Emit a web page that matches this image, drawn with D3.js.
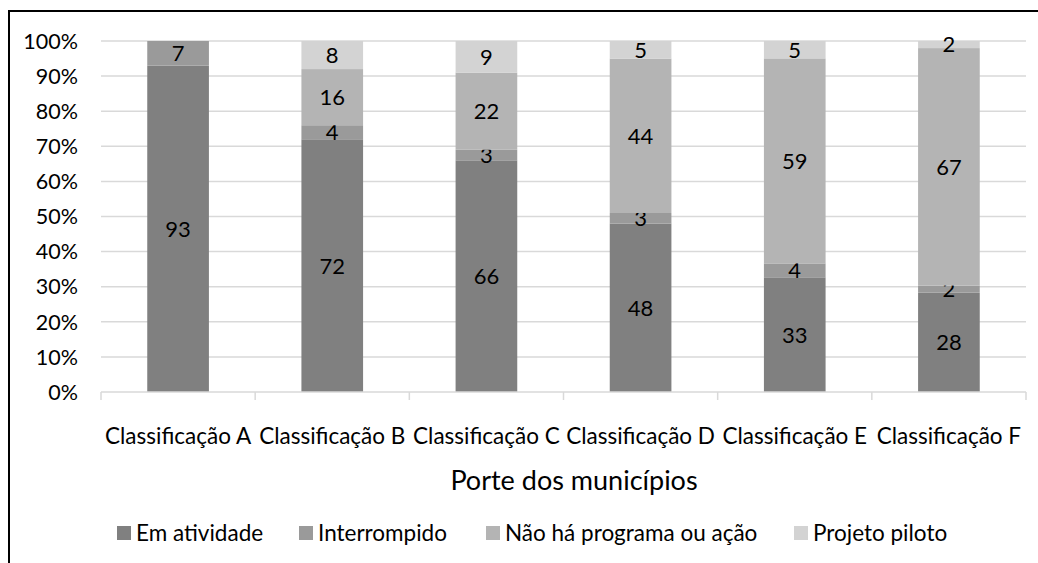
<!DOCTYPE html>
<html><head><meta charset="utf-8">
<script src="https://cdn.jsdelivr.net/npm/d3@7"></script>
<style>
html,body{margin:0;padding:0;background:#fff;}
svg text{font-family:Lato,"Open Sans",sans-serif;fill:#000;}
</style></head>
<body><svg id="c" width="1038" height="563"></svg>
<script>
const categories = ["Classificação A","Classificação B","Classificação C","Classificação D","Classificação E","Classificação F"];
const seriesNames = ["Em atividade","Interrompido","Não há programa ou ação","Projeto piloto"];
const emAtividade = [93,72,66,48,33,28];
const interrompido = [7,4,3,3,4,2];
const naoHa = [0,16,22,44,59,67];
const projetoPiloto = [0,8,9,5,5,2];
const yTicks = [0,0.1,0.2,0.3,0.4,0.5,0.6,0.7,0.8,0.9,1];
const colors = ["#808080","#9a9a9a","#b4b4b4","#d3d3d3"];

const svg = d3.select("#c");
svg.append("rect").attr("x",9).attr("y",11).attr("width",1200).attr("height",800)
  .attr("fill","none").attr("stroke","#000").attr("stroke-width",2);

const m = {l:101, r:1026, t:41, b:392};
const x = d3.scaleBand().domain(categories).range([m.l,m.r]).paddingInner(0.6).paddingOuter(0.3);
const y = d3.scaleLinear().domain([0,1]).range([m.b,m.t]);

const rows = categories.map((c,i)=>{
  const vals=[emAtividade[i],interrompido[i],naoHa[i],projetoPiloto[i]];
  const tot=d3.sum(vals);
  const o={cat:c,tot};
  seriesNames.forEach((s,j)=>o[s]=vals[j]/tot);
  o.raw=vals;
  return o;
});
const stack = d3.stack().keys(seriesNames)(rows);

// gridlines
svg.append("g").selectAll("line").data(yTicks.filter(t=>t>0)).join("line")
  .attr("x1",m.l).attr("x2",m.r).attr("y1",d=>y(d)).attr("y2",d=>y(d))
  .attr("stroke","#d9d9d9").attr("stroke-width",1.5);

// y labels
svg.append("g").selectAll("text").data(yTicks).join("text")
  .attr("x",78).attr("y",d=>y(d)).attr("dy","0.36em").attr("text-anchor","end")
  .attr("font-size",21.5).text(d=>d3.format(".0%")(d));

// bars
stack.forEach((layer,j)=>{
  svg.append("g").attr("fill",colors[j]).selectAll("rect").data(layer).join("rect")
    .attr("x",d=>x(d.data.cat)).attr("width",x.bandwidth())
    .attr("y",d=>y(d[1])).attr("height",d=>y(d[0])-y(d[1]));
  svg.append("g").selectAll("text").data(layer.filter(d=>d.data.raw[j]>0)).join("text")
    .attr("x",d=>x(d.data.cat)+x.bandwidth()/2).attr("y",d=>(y(d[0])+y(d[1]))/2)
    .attr("dy","0.36em").attr("text-anchor","middle").attr("font-size",22)
    .text(d=>d.data.raw[j]);
});

// x axis line and ticks
const ax = svg.append("g");
ax.append("line").attr("x1",m.l).attr("x2",m.r).attr("y1",m.b).attr("y2",m.b).attr("stroke","#d9d9d9").attr("stroke-width",1.5);
const tickX = d3.range(categories.length+1).map(i=> m.l + i*(m.r-m.l)/categories.length);
ax.selectAll("line.t").data(tickX).join("line").attr("class","t")
  .attr("x1",d=>d).attr("x2",d=>d).attr("y1",m.b).attr("y2",m.b+8).attr("stroke","#d9d9d9").attr("stroke-width",1.5);
ax.selectAll("text").data(categories).join("text")
  .attr("x",(d,i)=>m.l+(i+0.5)*(m.r-m.l)/categories.length).attr("y",444)
  .attr("text-anchor","middle").attr("font-size",22.5).text(d=>d);

svg.append("text").attr("x",574).attr("y",490).attr("text-anchor","middle").attr("font-size",27).text("Porte dos municípios");

// legend
const legX = [117,299,486,794];
const lg = svg.append("g");
seriesNames.forEach((s,j)=>{
  lg.append("rect").attr("x",legX[j]).attr("y",526).attr("width",14).attr("height",14).attr("fill",colors[j]);
  lg.append("text").attr("x",legX[j]+19).attr("y",541).attr("font-size",22.5).text(s);
});
</script></body></html>
